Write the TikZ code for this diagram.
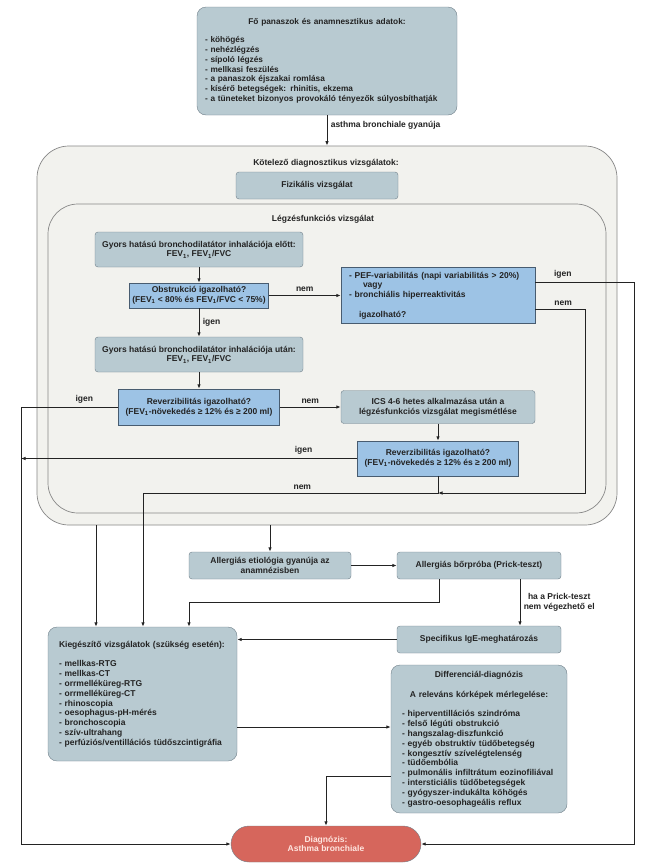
\documentclass[tikz,border=0pt]{standalone}
\usepackage{fontspec}
\setmainfont{Liberation Sans}
\usetikzlibrary{arrows.meta}
\definecolor{boxfill}{RGB}{184,202,209}
\definecolor{boxline}{RGB}{112,128,138}
\definecolor{qfill}{RGB}{157,195,229}
\definecolor{qline}{RGB}{72,92,112}
\definecolor{panel}{RGB}{242,242,238}
\definecolor{panelline}{RGB}{135,135,135}
\definecolor{dxfill}{RGB}{214,102,92}
\definecolor{dxtext}{RGB}{255,230,224}
\definecolor{ink}{RGB}{35,35,35}

\begin{document}
\begin{tikzpicture}[x=1pt, y=-1pt, font=\bfseries\fontsize{8.5}{9.8}\selectfont, text=ink,
    gbox/.style={draw=boxline, fill=boxfill, rounded corners=3pt, align=center, inner sep=0pt},
    qbox/.style={draw=qline, fill=qfill, align=center, inner sep=0pt},
    panelbox/.style={draw=panelline, fill=panel, line width=0.7pt, rounded corners=32pt, inner sep=0pt},
    conn/.style={draw=ink, line width=0.9pt},
    arr/.style={conn, -{Latex[length=4.5pt,width=3.5pt]}}]
      \fill[white] (0,0) rectangle (648,865);
      \useasboundingbox (0,0) rectangle (648,865);
      \coordinate (lft) at (21,0);
      \coordinate (rgt) at (634,0);
      \coordinate (k1) at (96,0);
      \coordinate (sp) at (520,0);
      \node[gbox, rounded corners=9pt, minimum width=260, minimum height=108, text width=244, align=left,
            font=\bfseries\fontsize{8.3}{9.8}\selectfont] (panasz) at (327,61)
        {\centerline{Fő panaszok és anamnesztikus adatok:}\vskip8pt
         - köhögés\\ - nehézlégzés\\ - sípoló légzés\\ - mellkasi feszülés\\ - a panaszok éjszakai romlása\\
         - kísérő betegségek: rhinitis, ekzema\\ - a tüneteket bizonyos provokáló tényezők súlyosbíthatják};
      \node[panelbox, minimum width=580, minimum height=379] (kotelezo) at (327,335.5) {};
      \node (kottitle) at (326,163) {Kötelező diagnosztikus vizsgálatok:};
      \node[gbox, minimum width=162, minimum height=27] (fizikalis) at (317,185.5) {Fizikális vizsgálat};
      \node[panelbox, rounded corners=30pt, minimum width=558, minimum height=309] (legzes) at (327,358.5) {};
      \node (legtitle) at (323,219) {Légzésfunkciós vizsgálat};
      \node[gbox, minimum width=208, minimum height=35] (elott) at (199,249.5)
        {Gyors hatású bronchodilatátor inhalációja előtt:\\ FEV\textsubscript{1}, FEV\textsubscript{1}/FVC};
      \node[qbox, minimum width=139, minimum height=25] (obstr) at (199,295.5)
        {Obstrukció igazolható?\\ (FEV\textsubscript{1} < 80\% és FEV\textsubscript{1}/FVC < 75\%)};
      \node[gbox, minimum width=208, minimum height=35] (utan) at (199,354.5)
        {Gyors hatású bronchodilatátor inhalációja után:\\ FEV\textsubscript{1}, FEV\textsubscript{1}/FVC};
      \node[qbox, minimum width=161, minimum height=36] (rev1) at (199,407)
        {Reverzibilitás igazolható?\\ (FEV\textsubscript{1}-növekedés ≥ 12\% és ≥ 200 ml)};
      \node[qbox, minimum width=194, minimum height=56, text width=178, align=left] (pef) at (438,295.5)
        {- PEF-variabilitás (napi variabilitás > 20\%)\\ \hspace*{14pt}vagy\\ - bronchiális hiperreaktivitás\\[9.8pt] \hspace*{10pt}igazolható?};
      \node[gbox, minimum width=194, minimum height=33] (ics) at (438,407)
        {ICS 4-6 hetes alkalmazása után a\\ légzésfunkciós vizsgálat megismétlése};
      \node[qbox, minimum width=161, minimum height=35] (rev2) at (438,458.5)
        {Reverzibilitás igazolható?\\ (FEV\textsubscript{1}-növekedés ≥ 12\% és ≥ 200 ml)};
      \coordinate (pefyes) at ([yshift=13.5pt]pef.east);
      \coordinate (pefno) at ([yshift=-13.5pt]pef.east);
      \coordinate (nemx) at (585,493);
      \coordinate (nemy) at (143,493);
      \coordinate (leftjoin) at (21,458.5);
      \node[gbox, minimum width=162, minimum height=27] (etio) at (270,565.5)
        {Allergiás etiológia gyanúja az\\ anamnézisben};
      \node[gbox, minimum width=164, minimum height=27] (borproba) at (479,565.5) {Allergiás bőrpróba (Prick-teszt)};
      \node[gbox, minimum width=164, minimum height=27] (spec) at (479,639.5) {Specifikus IgE-meghatározás};
      \node[gbox, rounded corners=9pt, minimum width=189, minimum height=134, text width=167, align=left] (kieg) at (142.5,694)
        {Kiegészítő vizsgálatok (szükség esetén):\\[9.8pt]
         - mellkas-RTG\\ - mellkas-CT\\ - orrmelléküreg-RTG\\ - orrmelléküreg-CT\\ - rhinoscopia\\
         - oesophagus-pH-mérés\\ - bronchoscopia\\ - szív-ultrahang\\ - perfúziós/ventillációs tüdőszcintigráfia};
      \node[gbox, rounded corners=9pt, minimum width=176, minimum height=148, text width=154, align=left] (diff) at (479,739)
        {\centerline{Differenciál-diagnózis}\vskip10pt
         \centerline{A releváns kórképek mérlegelése:}\vskip10pt
         - hiperventillációs szindróma\\ - felső légúti obstrukció\\ - hangszalag-diszfunkció\\
         - egyéb obstruktív tüdőbetegség\\ - kongesztív szívelégtelenség\\ - tüdőembólia\\
         - pulmonális infiltrátum eozinofiliával\\ - intersticiális tüdőbetegségek\\
         - gyógyszer-indukálta köhögés\\ - gastro-oesophageális reflux};
      \node[draw=boxline, fill=dxfill, text=dxtext, align=center, rounded corners=18pt, minimum width=190, minimum height=36] (diag) at (326,844)
        {Diagnózis:\\ Asthma bronchiale};
      \coordinate (bp1) at (439,602);
      \coordinate (bp2) at (189,602);
      \coordinate (kd) at (237,727);
      \coordinate (dd) at (326,776);
      \draw[arr] (panasz) -- node[right, pos=.33] (gyanu) {asthma bronchiale gyanúja} (kotelezo);
      \draw[arr] (elott) -- (obstr);
      \draw[arr] (obstr) -- node[right] (igen1) {igen} (utan);
      \draw[arr] (utan) -- (rev1);
      \draw[arr] (obstr) -- node[above] (nem1) {nem} (pef);
      \draw[arr] (rev1) -- node[above] (nem2) {nem} (ics);
      \draw[arr] (ics) -- (rev2);
      \draw[arr] (rev1) -- node[above, pos=.35] (igen2) {igen} (rev1 -| lft) |- (diag);
      \draw[arr] (rev2) -- node[above, pos=.16] (igen3) {igen} (leftjoin);
      \draw[arr] (pefyes) -- node[above, pos=.28] (igen4) {igen} (pefyes -| rgt) |- (diag);
      \draw[arr] (pefno) -- node[above, pos=.56] (nem3) {nem} (pefno -| nemx) -- (nemx) -- (nemx -| rev2);
      \draw[arr] (rev2) |- node[above, pos=.73] (nem4) {nem} (nemy) -- (nemy |- kieg.north);
      \draw[arr] (kotelezo.south -| k1) -- (k1 |- kieg.north);
      \draw[arr] (kotelezo.south -| etio) -- (etio);
      \draw[arr] (etio) -- (borproba);
      \draw[arr] (borproba.south -| bp1) -- (bp1) -- (bp2) -- (bp2 |- kieg.north);
      \draw[arr] (borproba.south -| sp) -- node[right, align=center] (prick) {ha a Prick-teszt\\ nem végezhető el} (spec.north -| sp);
      \draw[arr] (spec) -- (spec -| kieg.east);
      \draw[arr] (kd) -- (kd -| diff.west);
      \draw[arr] (dd -| diff.west) -- (dd) -- (diag);
\end{tikzpicture}
\end{document}
